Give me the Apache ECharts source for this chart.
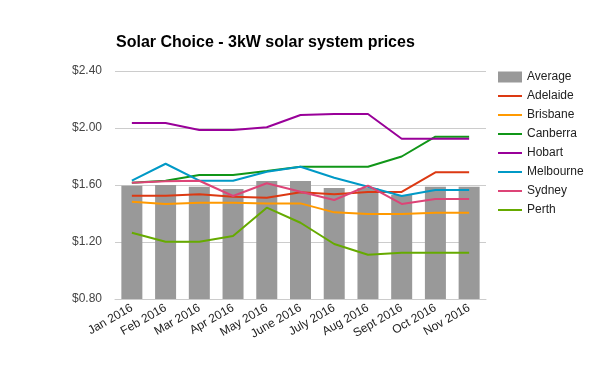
<!DOCTYPE html>
<html><head><meta charset="utf-8">
<script src="https://cdn.jsdelivr.net/npm/echarts@6/dist/echarts.min.js"></script>
<style>html,body{margin:0;padding:0;background:#fff}#c{width:600px;height:371px}</style>
</head><body><div id="c"></div>
<script>
const categories = ['Jan 2016','Feb 2016','Mar 2016','Apr 2016','May 2016','June 2016','July 2016','Aug 2016','Sept 2016','Oct 2016','Nov 2016'];
const average   = [1.595,1.60,1.588,1.572,1.628,1.628,1.579,1.579,1.53,1.588,1.588];
const adelaide  = [1.525,1.525,1.535,1.518,1.511,1.549,1.535,1.551,1.551,1.689,1.689];
const brisbane  = [1.483,1.467,1.476,1.476,1.471,1.471,1.408,1.396,1.396,1.406,1.406];
const canberra  = [1.616,1.63,1.67,1.67,1.698,1.728,1.728,1.728,1.80,1.939,1.939];
const hobart    = [2.035,2.035,1.986,1.986,2.005,2.091,2.098,2.098,1.925,1.925,1.925];
const melbourne = [1.63,1.749,1.63,1.63,1.693,1.728,1.651,1.588,1.523,1.565,1.565];
const sydney    = [1.616,1.626,1.63,1.523,1.612,1.553,1.495,1.595,1.467,1.502,1.502];
const perth     = [1.265,1.202,1.202,1.242,1.441,1.335,1.186,1.111,1.125,1.125,1.125];
const yTicks = [0.8,1.2,1.6,2.0,2.4];

const lineDefs = [
  ['Adelaide', adelaide, '#dc3912'],
  ['Brisbane', brisbane, '#ff9900'],
  ['Canberra', canberra, '#109618'],
  ['Hobart', hobart, '#990099'],
  ['Melbourne', melbourne, '#0099c6'],
  ['Sydney', sydney, '#dd4477'],
  ['Perth', perth, '#66aa00']
];
const lineSeries = lineDefs.map(([name, data, color]) => ({
  name, type: 'line', data, symbol: 'none', showSymbol: false,
  color, lineStyle: { width: 2, color }, itemStyle: { color }
}));
const lineIcon = 'path://M0,0 L24,0 L24,2 L0,2 Z';

const chart = echarts.init(document.getElementById('c'));
chart.setOption({
  animation: false,
  title: {
    text: 'Solar Choice - 3kW solar system prices',
    left: 111, top: 30,
    textStyle: { fontFamily: 'Liberation Sans, Arial', fontSize: 16, fontWeight: 'bold', color: '#000' }
  },
  legend: {
    orient: 'vertical', left: 498, top: 71, padding: 0,
    itemWidth: 24, itemHeight: 11, itemGap: 7, symbolKeepAspect: true,
    textStyle: { fontFamily: 'Liberation Sans, Arial', fontSize: 12, color: '#222' },
    data: [{ name: 'Average', icon: 'rect' }].concat(lineDefs.map(d => ({ name: d[0], icon: lineIcon })))
  },
  grid: { left: 115, right: 114, top: 71, bottom: 72, containLabel: false },
  xAxis: {
    type: 'category', data: categories,
    axisLine: { lineStyle: { color: '#ccc' } },
    axisTick: { show: false },
    axisLabel: { rotate: 30, interval: 0, margin: 8, color: '#222',
      fontFamily: 'Liberation Sans, Arial', fontSize: 12 }
  },
  yAxis: {
    type: 'value', min: yTicks[0], max: yTicks[yTicks.length-1], interval: 0.4,
    axisLine: { show: false }, axisTick: { show: false },
    splitLine: { lineStyle: { color: '#ccc' } },
    axisLabel: { margin: 13, color: '#444', fontFamily: 'Liberation Sans, Arial', fontSize: 12,
      formatter: v => '$' + v.toFixed(2) }
  },
  series: [
    { name: 'Average', type: 'bar', data: average, barWidth: 21, color: '#999999', itemStyle: { color: '#999999' } },
    ...lineSeries
  ]
});
</script></body></html>
